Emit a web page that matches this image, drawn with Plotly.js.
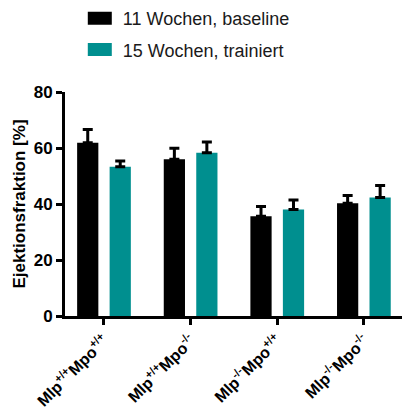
<!DOCTYPE html>
<html>
<head>
<meta charset="utf-8">
<script src="https://cdn.plot.ly/plotly-3.0.1.min.js"></script>
<style>
  html, body { margin: 0; padding: 0; background: #fff; }
  #chart { width: 402px; height: 412px; }
</style>
</head>
<body>
<div id="chart"></div>
<script>
// Genotype groups on the x axis
const genotypes = [
  'Mlp<sup>+/+</sup>Mpo<sup>+/+</sup>',
  'Mlp<sup>+/+</sup>Mpo<sup>-/-</sup>',
  'Mlp<sup>-/-</sup>Mpo<sup>+/+</sup>',
  'Mlp<sup>-/-</sup>Mpo<sup>-/-</sup>'
];
const groupPositions = [0, 1, 2, 3];

// Ejection fraction (%) means and upper error (SEM)
const baselineName = '11 Wochen, baseline';
const baselineMean = [61.9, 56.0, 35.6, 40.3];
const baselineErr  = [4.7, 3.9, 3.5, 2.7];

const trainedName = '15 Wochen, trainiert';
const trainedMean = [53.3, 58.3, 38.0, 42.3];
const trainedErr  = [2.1, 3.8, 3.4, 4.3];

const yTicks = [0, 20, 40, 60, 80];

const FONT = 'Liberation Sans, Arial, Helvetica, sans-serif';
const TEAL = '#008f8f';

function barTrace(name, y, err, color, offset, group) {
  return {
    type: 'bar',
    name: name,
    legendgroup: group,
    x: groupPositions,
    y: y,
    width: 0.245,
    offset: offset,
    marker: { color: color, line: { width: 0 } },
    error_y: {
      type: 'data',
      array: err,
      symmetric: false,
      arrayminus: err.map(() => 0),
      color: '#000',
      thickness: 3,
      width: 5
    }
  };
}

const data = [
  barTrace(baselineName, baselineMean, baselineErr, '#000000', -0.31, 'a'),
  barTrace(trainedName, trainedMean, trainedErr, TEAL, 0.065, 'b')
];

const layout = {
  width: 402,
  height: 412,
  margin: { l: 65, r: 0, t: 91, b: 96 },
  paper_bgcolor: '#fff',
  plot_bgcolor: '#fff',
  font: { family: FONT, color: '#000' },
  showlegend: true,
  legend: {
    x: 0.035, y: 1.41,
    xanchor: 'left', yanchor: 'top',
    font: { family: FONT, size: 18, color: '#1a1a1a' },
    bgcolor: 'rgba(0,0,0,0)',
    traceorder: 'grouped',
    tracegroupgap: 5,
    itemwidth: 36,
    itemclick: false
  },
  xaxis: {
    range: [-0.45, 3.44],
    tickmode: 'array',
    tickvals: groupPositions,
    ticktext: genotypes,
    tickangle: -45,
    ticks: 'outside',
    ticklen: 6,
    tickwidth: 3,
    tickcolor: '#000',
    showline: true,
    linewidth: 3,
    linecolor: '#000',
    showgrid: false,
    zeroline: false,
    automargin: false,
    tickfont: { family: FONT, size: 16, weight: 'bold', color: '#000' }
  },
  yaxis: {
    range: [0, 80],
    tickmode: 'array',
    tickvals: yTicks,
    ticks: 'outside',
    ticklen: 6,
    tickwidth: 3,
    tickcolor: '#000',
    showline: true,
    linewidth: 3,
    linecolor: '#000',
    showgrid: false,
    zeroline: false,
    automargin: false,
    tickfont: { family: FONT, size: 17, weight: 'bold', color: '#000' },
    title: {
      text: 'Ejektionsfraktion [%]',
      font: { family: FONT, size: 17, weight: 'bold', color: '#000' },
      standoff: 4
    }
  }
};

Plotly.newPlot('chart', data, layout, { staticPlot: true, displayModeBar: false }).then(function (gd) {
  // Wider rectangular legend swatches
  gd.querySelectorAll('.legend .legendpoints path').forEach(function (p) {
    p.setAttribute('d', 'M12,6.5H-12V-6.5H12Z');
  });
});
</script>
</body>
</html>
